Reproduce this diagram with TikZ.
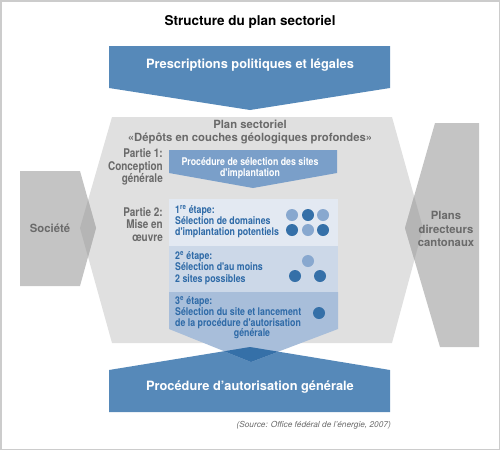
\documentclass[tikz,border=0pt]{standalone}
\usepackage{fontspec}
\setmainfont{TeX Gyre Heros}
\newfontfamily\narrowfont[FakeStretch=0.83]{TeX Gyre Heros}
\usepackage{xcolor}
\usepackage{tikz}
\definecolor{bandblue}{HTML}{5689B9}
\definecolor{deepblue}{HTML}{3570A8}
\definecolor{midblue}{HTML}{7A9FC9}
\definecolor{stageone}{HTML}{E3E9F2}
\definecolor{stagetwo}{HTML}{CCD8E8}
\definecolor{stagethree}{HTML}{A8BEDA}
\definecolor{dotlight}{HTML}{88A8CF}
\definecolor{textblue}{HTML}{2E6AA7}
\definecolor{hexgray}{HTML}{E0E0E0}
\definecolor{sidegray}{HTML}{C4C4C4}
\definecolor{overgray}{HTML}{B5B5B5}
\definecolor{labelgray}{HTML}{6A6A6A}
\newcommand{\hexpath}{(112,117) -- (392,117) -- (423,228) -- (392,343) -- (112,343) -- (80,228) -- cycle}
\newcommand{\societepath}{(20,171) -- (80,171) -- (96,228) -- (80,286) -- (20,286) -- cycle}
\newcommand{\planspath}{(435,123) -- (479,123) -- (479,347) -- (440,347) -- (405,228) -- cycle}
\newcommand{\lastpath}{(169,292) -- (338,292) -- (338,329) -- (251,362) -- (169,329) -- cycle}
\newcommand{\autorpath}{(109,370) -- (250,347) -- (390,370) -- (390,412) -- (109,412) -- cycle}
\newcommand{\sitedot}[3]{\fill[#3] (#1,#2) circle (6pt);}

\begin{document}
\begin{tikzpicture}[x=1pt,y=-1pt,
  banner/.style={font=\bfseries\fontsize{12.8}{15}\selectfont, text=white, inner sep=0},
  graylbl/.style={font=\bfseries\fontsize{11.3}{13.5}\selectfont, text=labelgray, inner sep=0, align=center},
  partlbl/.style={font=\narrowfont\bfseries\fontsize{12}{12.2}\selectfont, text=labelgray, inner sep=0, align=right, anchor=east},
  steplbl/.style={font=\narrowfont\bfseries\fontsize{10.6}{11.3}\selectfont, text=textblue, inner sep=0, align=left, anchor=west}]
\useasboundingbox (0,0) rectangle (500,450);
\draw[gray!40, line width=1.5pt] (0.75,0.75) rectangle (499.25,449.25);

% side blocks and plan
\fill[hexgray] \hexpath;
\fill[sidegray] \societepath;
\fill[sidegray] \planspath;
\begin{scope}
\clip \societepath;
\fill[overgray] \hexpath;
\end{scope}
\begin{scope}
\clip \planspath;
\fill[overgray] \hexpath;
\end{scope}

% top and bottom arrows
\fill[bandblue] (109,46) -- (390,46) -- (390,88) -- (250,110) -- (109,88) -- cycle;
\fill[bandblue] \autorpath;

% inner steps
\fill[midblue] (169,150) -- (337,150) -- (337,173) -- (253,188) -- (169,173) -- cycle;
\fill[stageone] (169,199) rectangle (338,246);
\fill[stagetwo] (169,246) rectangle (338,292);
\fill[stagethree] \lastpath;
\begin{scope}
\clip \lastpath;
\fill[deepblue] \autorpath;
\end{scope}

\node[font=\bfseries\fontsize{13.5}{16}\selectfont, inner sep=0] (title) at (250,22) {Structure du plan sectoriel};
\node[banner] (prescr) at (250,65) {Prescriptions politiques et légales};
\node[banner] (autor) at (250,387) {Procédure d'autorisation générale};
\node[graylbl] (plan) at (250,132) {Plan sectoriel\\«Dépôts en couches géologiques profondes»};
\node[partlbl] (partone) at (163,167) {Partie 1:\\Conception\\générale};
\node[partlbl] (parttwo) at (163,224.5) {Partie 2:\\Mise en\\œuvre};
\node[graylbl] (societe) at (50,228) {Société};
\node[graylbl] (plans) at (446,229) {Plans\\directeurs\\cantonaux};
\node[font=\narrowfont\bfseries\fontsize{10.6}{11.3}\selectfont, text=white, inner sep=0, align=center] (selection) at (250,168.5) {Procédure de sélection des sites\\d'implantation};

\node[steplbl] (stepone) at (175,221.5) {1\textsuperscript{re} étape:\\Sélection de domaines\\d'implantation potentiels};
\node[steplbl] (steptwo) at (175,268) {2\textsuperscript{e} étape:\\Sélection d'au moins\\2 sites possibles};
\node[steplbl] (stepthree) at (175,312.5) {3\textsuperscript{e} étape:\\Sélection du site et lancement\\de la procédure d'autorisation};
\node[steplbl, anchor=center] (stepthreeend) at (252,334) {générale};

\sitedot{292}{215}{dotlight}
\sitedot{308}{215}{deepblue}
\sitedot{323}{215}{dotlight}
\sitedot{292}{230}{deepblue}
\sitedot{308}{230}{dotlight}
\sitedot{323}{230}{deepblue}
\sitedot{308}{261}{dotlight}
\sitedot{295}{276}{deepblue}
\sitedot{320}{276}{deepblue}
\sitedot{319}{313}{deepblue}

\node[font=\itshape\fontsize{8.3}{10}\selectfont, text=labelgray, inner sep=0, anchor=east] (source) at (391,425) {(Source: Office fédéral de l'énergie, 2007)};
\end{tikzpicture}
\end{document}
